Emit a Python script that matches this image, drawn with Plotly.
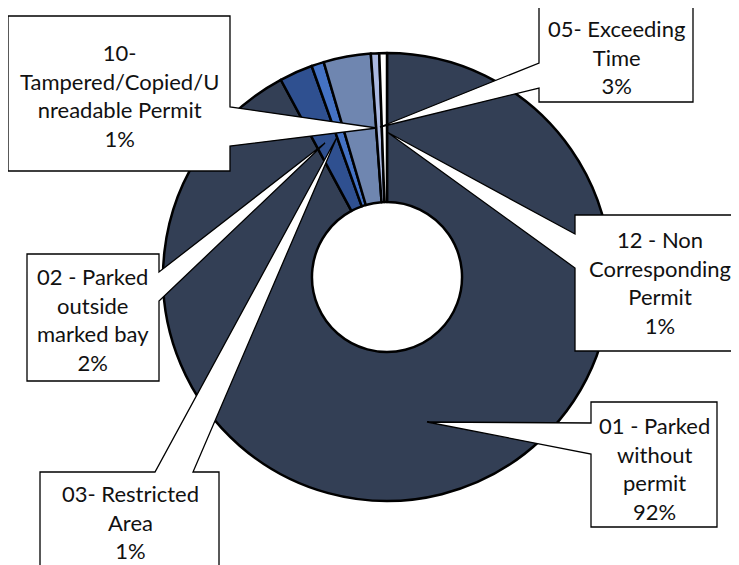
import plotly.graph_objects as go

# page body has an 8px default margin, so the figure is placed at (8, 8)
OFF = 8
W, H = 739 - OFF, 565 - OFF

# ---- data ----
categories = ["01 - Parked without permit", "02 - Parked outside marked bay",
              "03- Restricted Area", "05- Exceeding Time",
              "10- Tampered/Copied/Unreadable Permit", "12 - Non Corresponding Permit"]
label_text = ["01 - Parked<br>without<br>permit", "02 - Parked<br>outside<br>marked bay",
              "03- Restricted<br>Area", "05- Exceeding<br>Time",
              "10-<br>Tampered/Copied/U<br>nreadable Permit", "12 - Non<br>Corresponding<br>Permit"]
values = [92.0, 2.4, 0.9, 3.4, 0.6, 0.55]
colors = ["#333F55", "#2F5090", "#4472C4", "#6F86B0", "#AAB8E0", "#FFFFFF"]

total = sum(values)
pcts = [round(v / total * 100) for v in values]


def px(x, y):
    """window pixel -> paper coords"""
    return (x - OFF) / W, 1 - (y - OFF) / H


# pie centre (387, 277) window px, radius 224
cx0, cy0, R = 387, 277, 224
x0, y1 = px(cx0 - R, cy0 - R)
x1, y0 = px(cx0 + R, cy0 + R)

fig = go.Figure(go.Pie(
    labels=categories, values=values, sort=False, direction="clockwise", rotation=0,
    hole=0.335, textinfo="none", hoverinfo="label+percent",
    marker=dict(colors=colors, line=dict(color="#000000", width=2.5)),
    domain=dict(x=[x0, x1], y=[y0, y1]),
    showlegend=False,
))

callouts = [
    # index, box (l, t, r, b), wedge side, wedge span, tip, text centre
    (0, (591, 402, 717, 527), "left", (423, 454), (427, 422), (654, 468)),
    (1, (27, 254, 159, 381), "right", (272, 301), (325, 143), (93, 319)),
    (2, (40, 472, 219, 590), "top", (155, 193), (337, 137), (130, 522)),
    (3, (539, 7, 693, 102), "left", (63, 88), (380, 127), (616, 57)),
    (4, (8, 16, 230, 171), "right", (107, 146), (377, 128), (119, 96)),
    (5, (575, 215, 760, 351), "left", (234, 268), (387, 132), (660, 283)),
]


def path_for(box, side, wedge, tip):
    l, t, r, b = box
    a, c = wedge
    tx, ty = tip
    if side == "right":
        pts = [(l, t), (r, t), (r, a), (tx, ty), (r, c), (r, b), (l, b)]
    elif side == "left":
        pts = [(l, t), (r, t), (r, b), (l, b), (l, c), (tx, ty), (l, a)]
    else:  # top
        pts = [(l, t), (a, t), (tx, ty), (c, t), (r, t), (r, b), (l, b)]
    s = ""
    for i, (x, y) in enumerate(pts):
        X, Y = px(x, y)
        s += ("M" if i == 0 else " L") + f"{X:.5f},{Y:.5f}"
    return s + " Z"


shapes = []
annotations = []
for idx, box, side, wedge, tip, center in callouts:
    shapes.append(dict(type="path", xref="paper", yref="paper", layer="above",
                       path=path_for(box, side, wedge, tip),
                       fillcolor="#FFFFFF", line=dict(color="#000000", width=1.3)))
    tx, ty = px(*center)
    annotations.append(dict(xref="paper", yref="paper", x=tx, y=ty,
                            xanchor="center", yanchor="middle", showarrow=False,
                            text=f"{label_text[idx]}<br>{pcts[idx]}%",
                            align="center",
                            font=dict(family="Lato, Carlito, Calibri, sans-serif",
                                      size=22, color="#111111")))

fig.update_layout(width=W, height=H, margin=dict(l=0, r=0, t=0, b=0),
                  paper_bgcolor="#FFFFFF", plot_bgcolor="#FFFFFF",
                  shapes=shapes, annotations=annotations)

fig.write_html("out.html")
